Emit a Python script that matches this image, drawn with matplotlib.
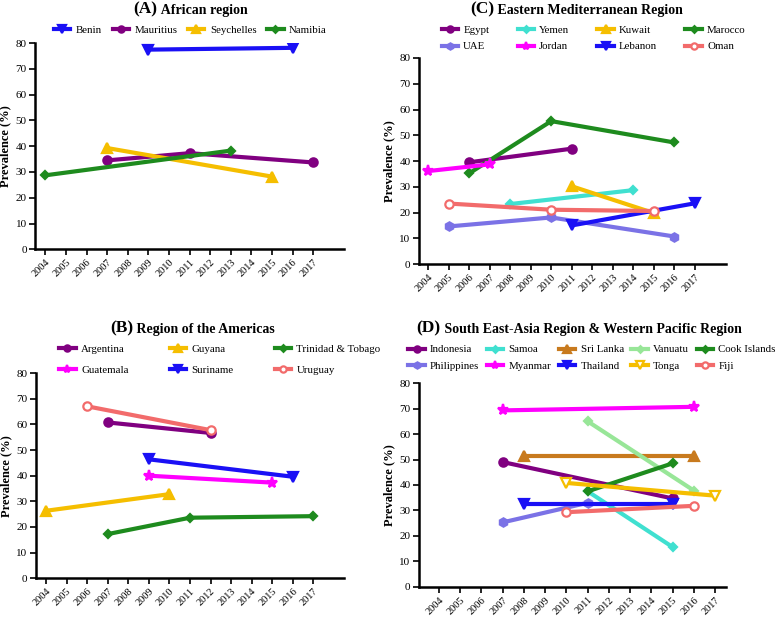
import matplotlib.pyplot as plt

plt.rcParams['font.family'] = ['Liberation Serif', 'DejaVu Serif']

years = list(range(2004, 2018))

# (A) African region
a_names = ['Benin', 'Mauritius', 'Seychelles', 'Namibia']
a_x = [[2009, 2016], [2007, 2011, 2017], [2007, 2015], [2004, 2013]]
a_y = [[77.5, 78.2], [34.5, 37.3, 33.7], [39.3, 28.2], [28.7, 38.3]]

# (C) Eastern Mediterranean Region
c_names = ['Egypt', 'Yemen', 'Kuwait', 'Marocco', 'UAE', 'Jordan', 'Lebanon', 'Oman']
c_x = [[2006, 2011], [2008, 2014], [2011, 2015], [2006, 2010, 2016],
       [2005, 2010, 2016], [2004, 2007], [2011, 2017], [2005, 2010, 2015]]
c_y = [[39.5, 44.8], [23.3, 28.7], [30.2, 19.8], [35.2, 55.5, 47.2],
       [14.6, 18.1, 10.7], [36.1, 38.7], [15.0, 23.6], [23.5, 21.1, 20.6]]

# (B) Region of the Americas
b_names = ['Argentina', 'Guyana', 'Trinidad & Tobago', 'Guatemala', 'Suriname', 'Uruguay']
b_x = [[2007, 2012], [2004, 2010], [2007, 2011, 2017], [2009, 2015], [2009, 2016], [2006, 2012]]
b_y = [[60.8, 56.7], [26.3, 32.8], [17.2, 23.6, 24.2], [40.0, 37.3], [46.4, 39.6], [67.1, 57.8]]

# (D) South East-Asia Region & Western Pacific Region
d_names = ['Indonesia', 'Samoa', 'Sri Lanka', 'Vanuatu', 'Cook Islands',
           'Philippines', 'Myanmar', 'Thailand', 'Tonga', 'Fiji']
d_x = [[2007, 2015], [2011, 2015], [2008, 2016], [2011, 2016], [2011, 2015],
       [2007, 2011], [2007, 2016], [2008, 2015], [2010, 2017], [2010, 2016]]
d_y = [[49.0, 34.7], [37.5, 15.6], [51.2, 51.2], [65.0, 37.8], [37.5, 48.5],
       [25.3, 33.0], [69.3, 70.7], [32.5, 32.5], [40.8, 35.8], [29.3, 31.8]]

purple = '#800080'
turq = '#40E0D0'
gold = '#F5BE00'
green = '#1E8B1E'
slate = '#7B72E6'
magenta = '#FF00FF'
blue = '#1A10F5'
salmon = '#F26B6B'
brown = '#C87A1E'
lgreen = '#98E698'

# (color, marker, open face)
styles = {
    'Benin': (blue, 'v', False), 'Mauritius': (purple, 'o', False),
    'Seychelles': (gold, '^', False), 'Namibia': (green, 'D', False),
    'Egypt': (purple, 'o', False), 'Yemen': (turq, 'D', False),
    'Kuwait': (gold, '^', False), 'Marocco': (green, 'D', False),
    'UAE': (slate, 'h', False), 'Jordan': (magenta, '*', False),
    'Lebanon': (blue, 'v', False), 'Oman': (salmon, 'o', True),
    'Argentina': (purple, 'o', False), 'Guyana': (gold, '^', False),
    'Trinidad & Tobago': (green, 'D', False), 'Guatemala': (magenta, '*', False),
    'Suriname': (blue, 'v', False), 'Uruguay': (salmon, 'o', True),
    'Indonesia': (purple, 'o', False), 'Samoa': (turq, 'D', False),
    'Sri Lanka': (brown, '^', False), 'Vanuatu': (lgreen, 'D', False),
    'Cook Islands': (green, 'D', False), 'Philippines': (slate, 'h', False),
    'Myanmar': (magenta, '*', False), 'Thailand': (blue, 'v', False),
    'Tonga': (gold, 'v', True), 'Fiji': (salmon, 'o', True),
}
msize = {'o': 6, 'h': 6, '^': 7, 'v': 7, 'D': 4.5, '*': 8}

fig = plt.figure(figsize=(7.77, 6.17), dpi=100)
renderer = fig.canvas.get_renderer()


def panel(rect, xlim, names, xs, ys, tag, title, title_xy, leg_xy, ncol, colsp, rowsp):
    ax = fig.add_axes(rect)
    handles = []
    for n, x, y in zip(names, xs, ys):
        col, mk, hollow = styles[n]
        fc = 'white' if hollow else col
        h, = ax.plot(x, y, color=col, lw=3, marker=mk, ms=msize[mk],
                     mfc=fc, mec=col, mew=1.6, label=n)
        handles.append(h)
    ax.set_xlim(*xlim)
    ax.set_ylim(0, 80)
    ax.set_xticks(years)
    ax.set_xticklabels([str(y) for y in years], rotation=45, ha='right',
                       rotation_mode='anchor', fontsize=7.5)
    ax.set_yticks(range(0, 81, 10))
    ax.tick_params(axis='y', labelsize=8, width=1.2, length=4, pad=2)
    ax.tick_params(axis='x', width=1.2, length=4, pad=2)
    for s in ['top', 'right']:
        ax.spines[s].set_visible(False)
    for s in ['left', 'bottom']:
        ax.spines[s].set_linewidth(1.8)
    ax.set_ylabel('Prevalence (%)', fontsize=9, fontweight='bold', labelpad=3)

    # title: larger tag followed by the region name on the same baseline
    t = fig.text(title_xy[0], title_xy[1], tag, ha='left', va='baseline',
                 fontsize=12.5, fontweight='bold')
    bb = t.get_window_extent(renderer)
    fig.text(bb.x1 / fig.bbox.width, title_xy[1], ' ' + title, ha='left', va='baseline',
             fontsize=10, fontweight='bold')

    # legend filled row by row
    nrows = -(-len(handles) // ncol)
    order = [r * ncol + c for c in range(ncol) for r in range(nrows) if r * ncol + c < len(handles)]
    fig.legend(handles=[handles[i] for i in order], loc='center', bbox_to_anchor=leg_xy,
               ncol=ncol, frameon=False, fontsize=7.8, handlelength=1.5,
               columnspacing=colsp, labelspacing=rowsp, handletextpad=0.5, markerscale=0.75)
    return ax


panel([0.045, 0.596, 0.398, 0.334], (2003.5, 2018.5), a_names, a_x, a_y,
      '(A)', 'African region', (0.172, 0.978), (0.245, 0.951), 4, 1.0, 0.3)
panel([0.539, 0.572, 0.395, 0.334], (2003.55, 2018.5), c_names, c_x, c_y,
      '(C)', 'Eastern Mediterranean Region', (0.605, 0.978), (0.764, 0.938), 4, 2.6, 0.65)
panel([0.046, 0.063, 0.397, 0.332], (2003.5, 2018.5), b_names, b_x, b_y,
      '(B)', 'Region of the Americas', (0.142, 0.461), (0.283, 0.417), 3, 3.8, 1.05)
panel([0.539, 0.049, 0.395, 0.330], (2003.05, 2017.5), d_names, d_x, d_y,
      '(D)', 'South East-Asia Region & Western Pacific Region', (0.536, 0.461),
      (0.762, 0.420), 5, 0.7, 0.65)

plt.savefig('out.png', dpi=100)
